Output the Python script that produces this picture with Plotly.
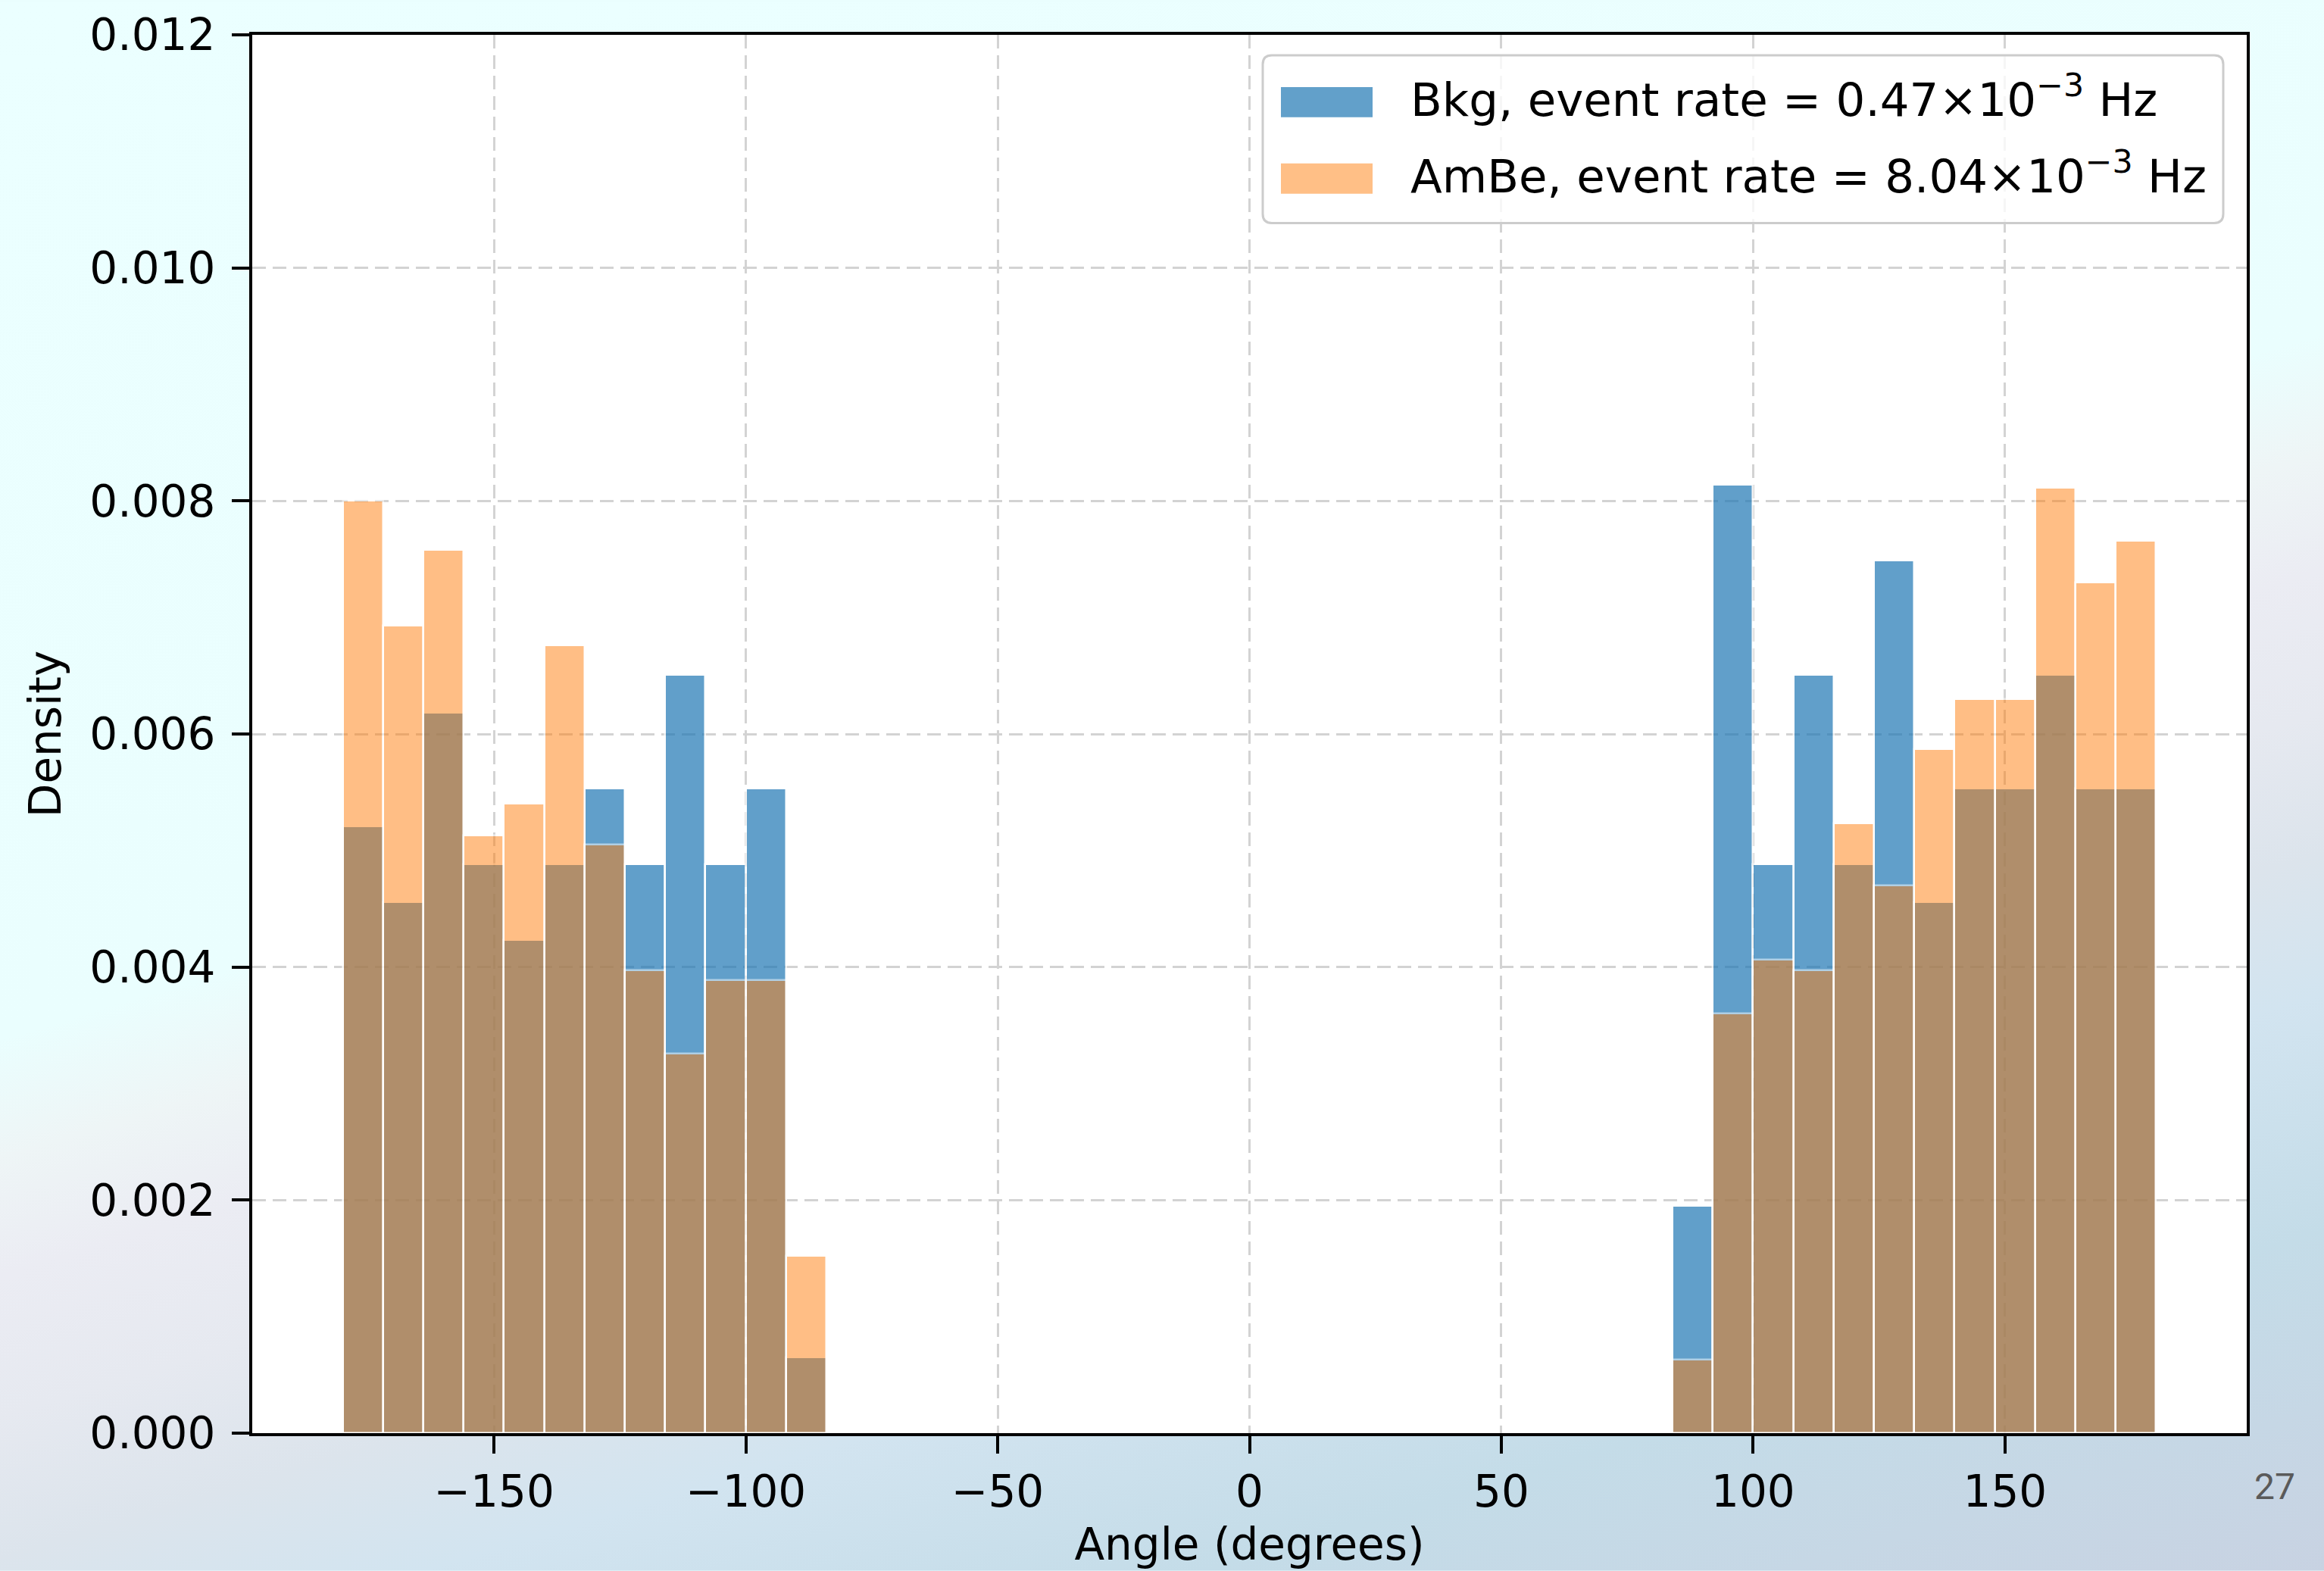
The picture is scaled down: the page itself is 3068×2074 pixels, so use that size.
import base64
import plotly.graph_objects as go

# ---------------- data ----------------
bin_width = 8
left_bin_centers = [-176, -168, -160, -152, -144, -136, -128, -120, -112, -104, -96, -88]
right_bin_centers = [88, 96, 104, 112, 120, 128, 136, 144, 152, 160, 168, 176]

bkg_left = [0.005208, 0.004557, 0.006185, 0.004883, 0.004232, 0.004883,
            0.005534, 0.004883, 0.006510, 0.004883, 0.005534, 0.000651]
bkg_right = [0.001953, 0.008138, 0.004883, 0.006510, 0.004883, 0.007487,
             0.004557, 0.005534, 0.005534, 0.006510, 0.005534, 0.005534]

ambe_left = [0.00800, 0.00693, 0.00758, 0.00513, 0.00540, 0.00676,
             0.00505, 0.00397, 0.00326, 0.00389, 0.00389, 0.00152]
ambe_right = [0.00063, 0.00360, 0.00406, 0.00397, 0.00523, 0.00470,
              0.00587, 0.00630, 0.00630, 0.00811, 0.00730, 0.00766]

bkg_label = "Bkg, event rate = 0.47×10<sup>−3</sup> Hz"
ambe_label = "AmBe, event rate = 8.04×10<sup>−3</sup> Hz"
x_ticks = [-150, -100, -50, 0, 50, 100, 150]
y_ticks = [0.000, 0.002, 0.004, 0.006, 0.008, 0.010, 0.012]
page_number = "27"

# ---------------- layout geometry (pixels) ----------------
W, H = 3068, 2074
L, R, T, B = 333, 2966, 43, 1892
PW, PH = R - L, B - T
FONT = "DejaVu Sans"

def px(x):
    return (x - L) / PW

def py(y):
    return (B - y) / PH

BLUE = "#1f77b4"
ORANGE = "#ff7f0e"

fig = go.Figure()
fig.add_trace(go.Bar(
    x=left_bin_centers + right_bin_centers,
    y=bkg_left + bkg_right,
    width=bin_width,
    marker=dict(color=BLUE, line=dict(color="white", width=2.5)),
    opacity=0.7,
    name="Bkg",
    showlegend=False,
))
fig.add_trace(go.Bar(
    x=left_bin_centers + right_bin_centers,
    y=ambe_left + ambe_right,
    width=bin_width,
    marker=dict(color=ORANGE, line=dict(color="white", width=2.5)),
    opacity=0.5,
    name="AmBe",
    showlegend=False,
))

# ---------------- slide-like gradient background ----------------
svg = f'''<svg xmlns="http://www.w3.org/2000/svg" width="{W}" height="{H}" viewBox="0 0 {W} {H}" preserveAspectRatio="none">
<defs>
<linearGradient id="g" x1="0" y1="0" x2="0.5625" y2="1.25">
<stop offset="0" stop-color="#EBFFFF"/>
<stop offset="0.44" stop-color="#EAFEFE"/>
<stop offset="0.49" stop-color="#EEF5F6"/>
<stop offset="0.54" stop-color="#EBECF3"/>
<stop offset="0.60" stop-color="#E6E9F0"/>
<stop offset="0.66" stop-color="#DCE4EC"/>
<stop offset="0.72" stop-color="#D2E4F0"/>
<stop offset="0.82" stop-color="#C4DCE8"/>
<stop offset="0.97" stop-color="#C8D2E2"/>
<stop offset="1" stop-color="#C8D2E2"/>
</linearGradient>
</defs>
<rect x="0" y="0" width="{W}" height="{H}" fill="url(#g)"/>
<rect x="{L}" y="{T}" width="{PW}" height="{PH}" fill="#ffffff"/>
</svg>'''
src = "data:image/svg+xml;base64," + base64.b64encode(svg.encode()).decode()
fig.add_layout_image(dict(
    source=src, xref="paper", yref="paper",
    x=-L / PW, y=1 + T / PH, sizex=W / PW, sizey=H / PH,
    xanchor="left", yanchor="top", sizing="stretch", layer="below",
))

# ---------------- legend drawn as in matplotlib ----------------
lx0, lx1, ly0, ly1 = 1667, 2935, 70, 292
r = 12
X0, X1 = px(lx0), px(lx1)
Y0, Y1 = py(ly1), py(ly0)
rx, ry = r / PW, r / PH
path = (f"M{X0+rx},{Y1} L{X1-rx},{Y1} Q{X1},{Y1} {X1},{Y1-ry} "
        f"L{X1},{Y0+ry} Q{X1},{Y0} {X1-rx},{Y0} L{X0+rx},{Y0} "
        f"Q{X0},{Y0} {X0},{Y0+ry} L{X0},{Y1-ry} Q{X0},{Y1} {X0+rx},{Y1} Z")
fig.add_shape(type="path", path=path, xref="paper", yref="paper",
              fillcolor="rgba(255,255,255,0.8)", line=dict(color="#cccccc", width=3),
              layer="above")

entries = [(bkg_label, BLUE, 0.7, 130), (ambe_label, ORANGE, 0.5, 231)]
for label, color, op, cy in entries:
    fig.add_shape(type="rect", xref="paper", yref="paper",
                  x0=px(1691), x1=px(1812), y0=py(cy + 22), y1=py(cy - 18),
                  fillcolor=color, opacity=op, line=dict(width=0), layer="above")
    fig.add_annotation(xref="paper", yref="paper", x=px(1860), y=py(cy - 6),
                       text=label, showarrow=False, xanchor="left", yanchor="middle",
                       font=dict(family=FONT, size=61, color="black"))

fig.add_annotation(xref="paper", yref="paper", x=px(3003), y=py(1963),
                   text=page_number, showarrow=False, xanchor="center", yanchor="middle",
                   font=dict(family="Roboto", size=48, color="#5a5a5a"))

axis_common = dict(
    showline=True, linecolor="black", linewidth=4, mirror=True,
    ticks="outside", ticklen=23, tickwidth=4, tickcolor="black",
    showgrid=True, gridcolor="#d3d3d3", gridwidth=3, griddash="18px,9px",
    zeroline=False, tickfont=dict(family=FONT, size=58, color="black"),
)

fig.update_xaxes(
    range=[-198, 198], tickmode="array", tickvals=x_ticks,
    title=dict(text="Angle (degrees)", font=dict(family=FONT, size=58, color="black"), standoff=18),
    **axis_common,
)
fig.update_yaxes(
    range=[0, 0.012], tickmode="array", tickvals=y_ticks, tickformat=".3f",
    ticklabelstandoff=10,
    title=dict(text="Density", font=dict(family=FONT, size=58, color="black"), standoff=20),
    **axis_common,
)

fig.update_layout(
    width=W, height=H, autosize=False,
    margin=dict(l=L, r=W - R, t=T, b=H - B, pad=0),
    barmode="overlay", bargap=0,
    paper_bgcolor="#EAFEFE", plot_bgcolor="rgba(0,0,0,0)",
    font=dict(family=FONT, color="black"),
    showlegend=False,
)

fig.write_html("out.html")
